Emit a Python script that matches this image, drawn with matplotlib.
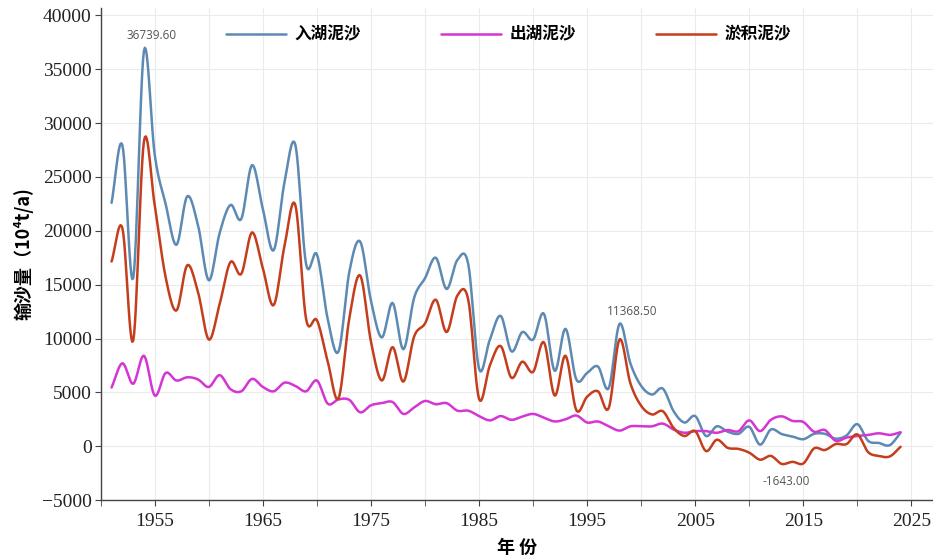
import numpy as np
import matplotlib
matplotlib.use("Agg")
import matplotlib.pyplot as plt
from matplotlib.ticker import MultipleLocator

plt.rcParams['font.family'] = ['Noto Sans CJK SC', 'DejaVu Sans']

years = list(range(1951, 2025))

# 入湖泥沙 (10^4 t/a)
inflow = [
    22600, 27950, 15600, 36739.6, 27000, 22500, 18700, 23200, 20500, 15400,
    19800, 22400, 21100, 26100, 22000, 18200, 24500, 28000, 16900, 17800,
    11800, 8800, 16200, 19000, 13500, 10100, 13300, 9000, 13800, 15600,
    17500, 14600, 17300, 16900, 7200, 9900, 12100, 8800, 10600, 9900,
    12300, 7000, 10900, 6200, 6800, 7400, 5400, 11368.5, 7700, 5600,
    4800, 5350, 3250, 2200, 2800, 950, 1850, 1350, 1150, 1800,
    150, 1550, 1130, 900, 650, 1150, 1150, 700, 1000, 2050,
    500, 300, 100, 1250,
]

# 出湖泥沙 (10^4 t/a)
outflow = [
    5450, 7700, 5800, 8400, 4700, 6800, 6100, 6400, 6200, 5500,
    6600, 5300, 5100, 6250, 5500, 5100, 5900, 5600, 5100, 6100,
    3950, 4350, 4300, 3150, 3800, 4000, 4100, 3000, 3600, 4200,
    3900, 4000, 3300, 3300, 2800, 2400, 2800, 2450, 2750, 3000,
    2650, 2300, 2500, 2850, 2200, 2300, 1850, 1450, 1850, 1850,
    1850, 2100, 1550, 1250, 1400, 1400, 1250, 1500, 1400, 2400,
    1400, 2450, 2773, 2350, 2250, 1350, 1500, 500, 800, 950,
    1050, 1200, 1050, 1300,
]

labels = ['入湖泥沙', '出湖泥沙', '淤积泥沙']
colors = ['#5d8ab3', '#d435d4', '#c43d1c']

x = np.array(years, dtype=float)
y_in = np.array(inflow)
y_out = np.array(outflow)
y_dep = y_in - y_out   # 淤积 = 入湖 - 出湖


def smooth(xp, yp, per=12):
    """Catmull-Rom curve through every point."""
    m = np.gradient(yp, xp)
    xs, ys = [], []
    for i in range(len(xp) - 1):
        h = xp[i + 1] - xp[i]
        t = np.linspace(0, 1, per, endpoint=False)
        h00 = 2 * t**3 - 3 * t**2 + 1
        h10 = t**3 - 2 * t**2 + t
        h01 = -2 * t**3 + 3 * t**2
        h11 = t**3 - t**2
        xs.append(xp[i] + t * h)
        ys.append(h00 * yp[i] + h10 * h * m[i] + h01 * yp[i + 1] + h11 * h * m[i + 1])
    xs.append([xp[-1]])
    ys.append([yp[-1]])
    return np.concatenate(xs), np.concatenate(ys)


fig = plt.figure(figsize=(9.33, 5.6), dpi=100)
ax = fig.add_axes([0.108, 0.107, 0.892, 0.879])

for yv, lab, col in zip([y_in, y_out, y_dep], labels, colors):
    sx, sy = smooth(x, yv)
    ax.plot(sx, sy, color=col, lw=1.8, label=lab, solid_capstyle='round')

ax.set_xlim(1950, 2027)
ax.set_ylim(-5000, 40700)
ax.xaxis.set_minor_locator(MultipleLocator(5))
ax.set_xticks(range(1955, 2026, 10))
ax.yaxis.set_major_locator(MultipleLocator(5000))
ax.grid(True, which='both', color='#ebebeb', lw=0.8)
ax.set_axisbelow(True)

for s in ['top', 'right']:
    ax.spines[s].set_visible(False)
for s in ['left', 'bottom']:
    ax.spines[s].set_color('#444444')
    ax.spines[s].set_linewidth(1.0)

ax.tick_params(axis='both', which='both', direction='out', length=4, color='#444444')
ax.tick_params(axis='y', pad=2.5)
ax.tick_params(axis='x', pad=5)
for lab in ax.get_xticklabels() + ax.get_yticklabels():
    lab.set_fontfamily('Liberation Serif')
    lab.set_fontsize(14)
    lab.set_color('#222222')

ax.set_ylabel('输沙量（10⁴t/a)', fontsize=13, fontweight='bold', labelpad=6)
ax.set_xlabel('年 份', fontsize=13, fontweight='bold', labelpad=6)

# 标注极值
i_max = int(np.argmax(y_in))
i_98 = years.index(1998)
i_min = int(np.argmin(y_dep))
ann = dict(textcoords='offset pixels', ha='center', va='center', fontsize=8.5,
           color='#555555', family='Open Sans')
ax.annotate(f'{y_in[i_max]:.2f}', (x[i_max], y_in[i_max]), xytext=(8, 15), **ann)
ax.annotate(f'{y_in[i_98]:.2f}', (x[i_98], y_in[i_98]), xytext=(13, 12), **ann)
ax.annotate(f'{y_dep[i_min]:.2f}', (x[i_min], y_dep[i_min]), xytext=(5, -18), **ann)

ax.legend(loc='center', bbox_to_anchor=(0.49, 0.945), ncol=3, frameon=False,
          handlelength=3.6, columnspacing=4.8, handletextpad=0.5,
          prop=dict(family=['Noto Sans CJK SC', 'DejaVu Sans'], weight='bold', size=12))

fig.savefig('out.png', dpi=100)
